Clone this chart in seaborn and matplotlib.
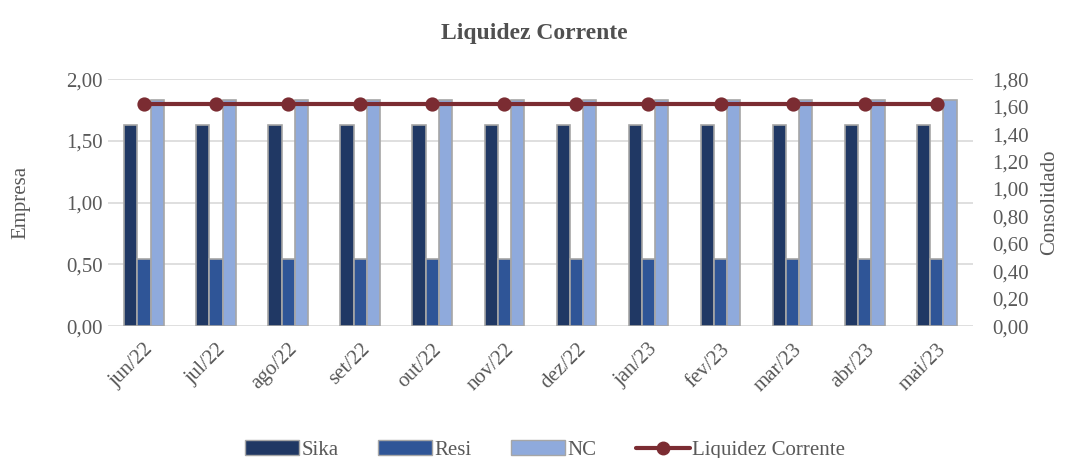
import pandas as pd
import matplotlib.pyplot as plt
import seaborn as sns
from matplotlib.patches import Patch
from matplotlib.lines import Line2D

# Data
MONTHS = ['jun/22', 'jul/22', 'ago/22', 'set/22', 'out/22', 'nov/22',
          'dez/22', 'jan/23', 'fev/23', 'mar/23', 'abr/23', 'mai/23']
SIKA = [1.63] * 12
RESI = [0.54] * 12
NC = [1.83] * 12
LIQUIDEZ = [1.62] * 12

SERIES = ['Sika', 'Resi', 'NC']
COLORS = ['#203864', '#2F5597', '#8FAADC']
LINE_COLOR = '#7B2C32'
TEXT_COLOR = '#595959'


def build_frame():
    rows = []
    for name, vals in zip(SERIES, [SIKA, RESI, NC]):
        for m, v in zip(MONTHS, vals):
            rows.append({'mes': m, 'serie': name, 'valor': v})
    return pd.DataFrame(rows)


sns.set_style('white')
plt.rcParams['font.family'] = ['Liberation Serif', 'DejaVu Serif']

df = build_frame()
fig = plt.figure(figsize=(10.69, 4.58), dpi=100)
ax = fig.add_axes([0.101, 0.288, 0.809, 0.539])

sns.barplot(data=df, x='mes', y='valor', hue='serie', palette=COLORS, width=0.55,
            gap=0, saturation=1, edgecolor='#A6A6A6', linewidth=1.2, legend=False, ax=ax)
ax.set_ylim(0, 2.0)
ax.set_yticks([0, 0.5, 1.0, 1.5, 2.0])
ax.set_yticklabels([f'{v:.2f}'.replace('.', ',') for v in ax.get_yticks()])
ax.yaxis.grid(True, color='#D9D9D9', linewidth=1.2)
ax.set_axisbelow(True)
ax.set_xlabel('')
ax.set_ylabel('Empresa', fontsize=15, color=TEXT_COLOR, labelpad=26)
ax.tick_params(axis='both', length=0, labelsize=15, labelcolor=TEXT_COLOR)
ax.set_xticks(range(len(MONTHS)))
ax.set_xticklabels(MONTHS, rotation=45, ha='right', rotation_mode='anchor')
ax.tick_params(axis='x', pad=10)
for s in ax.spines.values():
    s.set_visible(False)

ax2 = ax.twinx()
sns.pointplot(x=list(range(len(MONTHS))), y=LIQUIDEZ, color=LINE_COLOR, markers='o',
              native_scale=True, markersize=8, linewidth=3, ax=ax2)
ax2.set_xlim(-0.5, len(MONTHS) - 0.5)
ax2.set_ylim(0, 1.8)
ax2.set_yticks([round(0.2 * i, 1) for i in range(10)])
ax2.set_yticklabels([f'{v:.2f}'.replace('.', ',') for v in ax2.get_yticks()])
ax2.set_ylabel('Consolidado', fontsize=15, color=TEXT_COLOR, labelpad=8)
ax2.tick_params(axis='y', length=0, labelsize=15, labelcolor=TEXT_COLOR, pad=14)
ax2.grid(False)
for s in ax2.spines.values():
    s.set_visible(False)

fig.suptitle('Liquidez Corrente', fontsize=17, fontweight='bold', color='#505050', y=0.95)

handles = [Patch(facecolor=c, edgecolor='#A6A6A6', label=n) for n, c in zip(SERIES, COLORS)]
handles.append(Line2D([0], [0], color=LINE_COLOR, linewidth=3, marker='o', markersize=9,
                      label='Liquidez Corrente'))
leg = fig.legend(handles=handles, loc='lower center', ncol=4, frameon=False,
                 bbox_to_anchor=(0.51, -0.045), fontsize=15, handlelength=2.6,
                 handleheight=0.7, columnspacing=1.9, handletextpad=0.1)
for t in leg.get_texts():
    t.set_color(TEXT_COLOR)

fig.savefig('out.png', dpi=100)
